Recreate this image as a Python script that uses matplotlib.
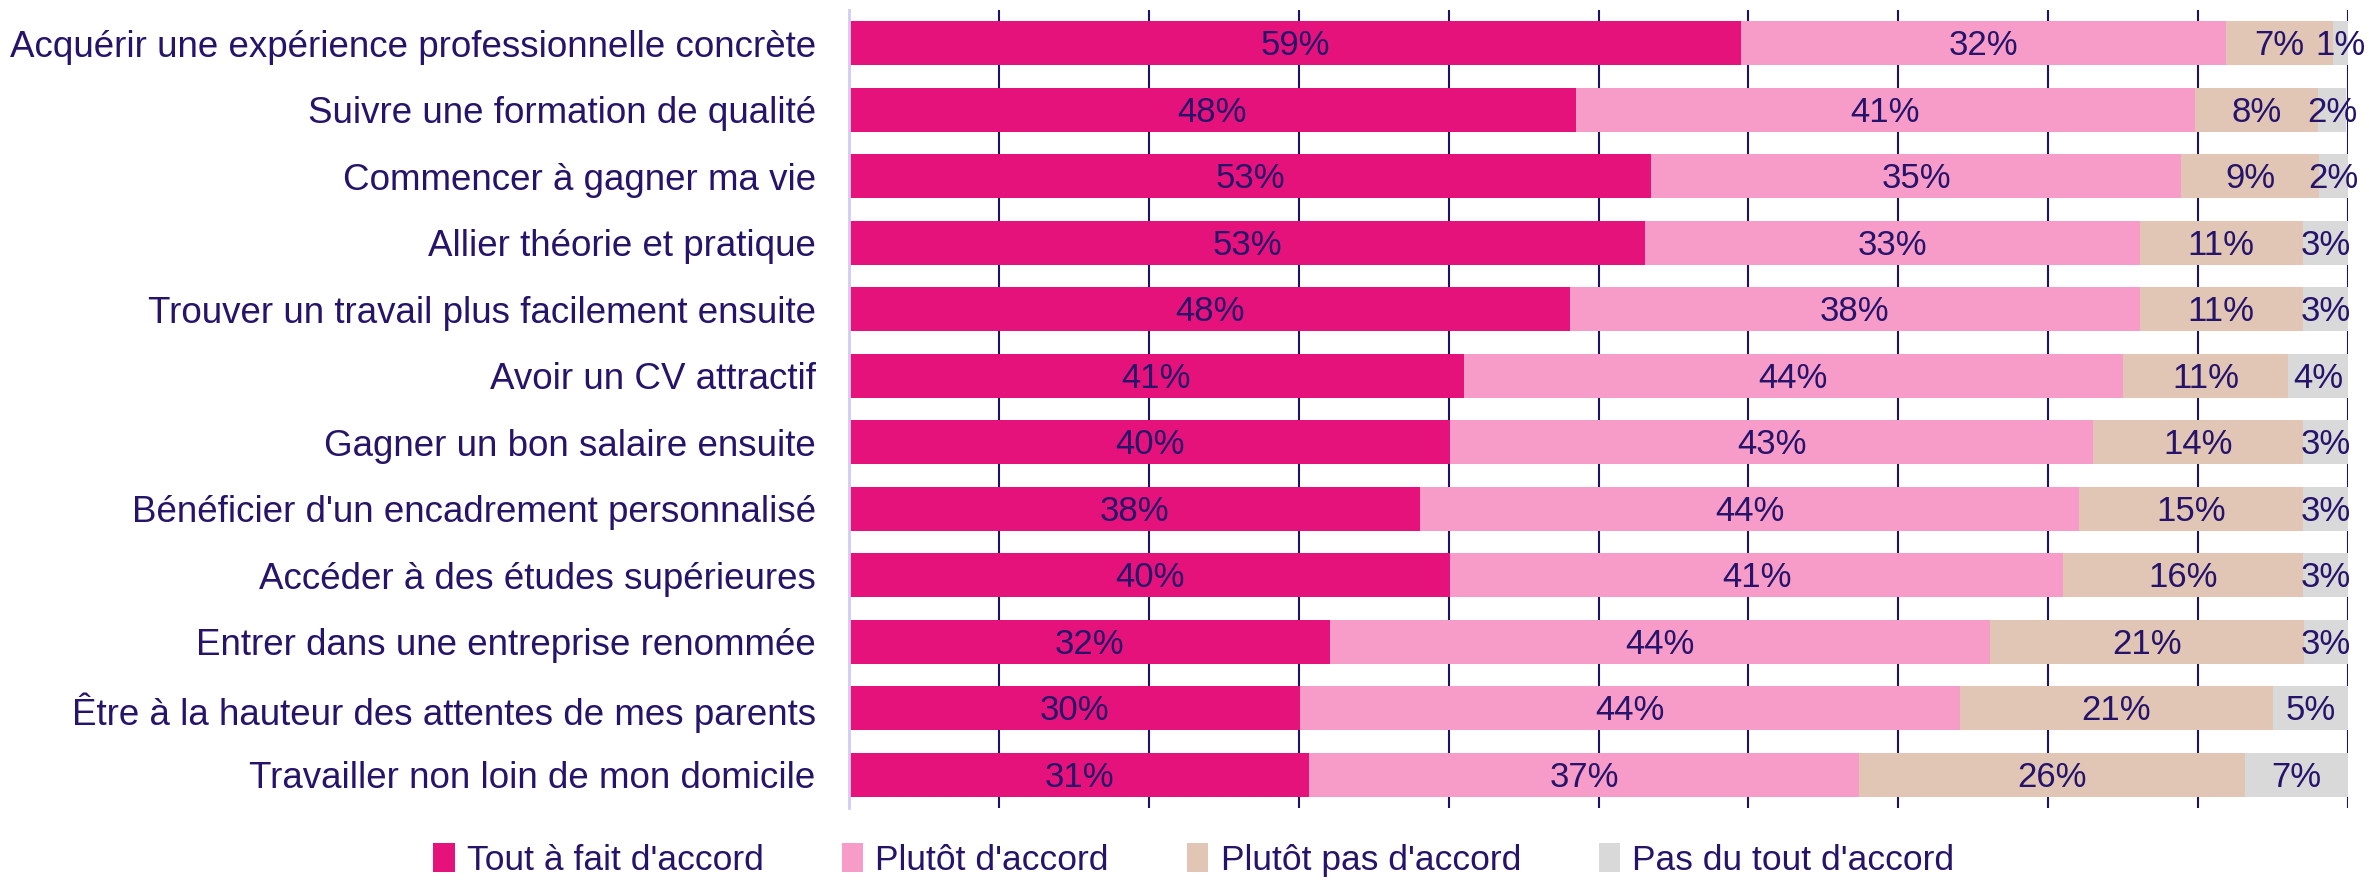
import matplotlib
matplotlib.use("Agg")
import matplotlib.pyplot as plt
import numpy as np

plt.rcParams['font.family'] = ['Liberation Sans', 'DejaVu Sans']

categories = [
    "Acquérir une expérience professionnelle concrète",
    "Suivre une formation de qualité",
    "Commencer à gagner ma vie",
    "Allier théorie et pratique",
    "Trouver un travail plus facilement ensuite",
    "Avoir un CV attractif",
    "Gagner un bon salaire ensuite",
    "Bénéficier d'un encadrement personnalisé",
    "Accéder à des études supérieures",
    "Entrer dans une entreprise renommée",
    "Être à la hauteur des attentes de mes parents",
    "Travailler non loin de mon domicile",
]

tout_a_fait = [59.49, 48.49, 53.49, 53.1, 48.1, 41.0, 40.1, 38.1, 40.1, 32.1, 30.1, 30.7]
plutot = [32.4, 41.3, 35.4, 33.0, 38.0, 44.0, 42.9, 43.95, 40.9, 44.0, 44.0, 36.7]
plutot_pas = [7.1, 8.2, 9.2, 10.9, 10.9, 11.0, 14.0, 14.95, 16.0, 20.95, 20.9, 25.7]
pas_du_tout = [1.0, 1.9, 1.9, 3.0, 3.0, 4.0, 3.0, 3.0, 3.0, 3.0, 5.0, 6.9]

series = ["Tout à fait d'accord", "Plutôt d'accord", "Plutôt pas d'accord", "Pas du tout d'accord"]
colors = ["#e6127b", "#f79bc9", "#e1c6b6", "#d9d9d9"]
text_color = "#26146a"

fig = plt.figure(figsize=(23.69, 8.84), dpi=100)
ax = fig.add_axes([849 / 2369, 1 - 808 / 884, 1499 / 2369, 798 / 884])

y = np.arange(len(categories))
left = np.zeros(len(categories))
for name, vals, col in zip(series, [tout_a_fait, plutot, plutot_pas, pas_du_tout], colors):
    vals = np.array(vals)
    ax.barh(y, vals, left=left, height=0.667, color=col, label=name, zorder=2)
    for yi, l, v in zip(y, left, vals):
        ax.text(l + v / 2, yi + 0.04, f"{round(v):.0f}%", ha='center', va='center',
                fontsize=25, color=text_color, zorder=3)
    left += vals

ax.set_xlim(0, 100)
ax.set_ylim(len(categories) - 0.5, -0.5)
ax.set_xticks(np.arange(0, 101, 10))
ax.xaxis.grid(True, color="#20106a", linewidth=1.5, zorder=0)
ax.set_axisbelow(True)
ax.tick_params(axis='x', length=0, labelbottom=False)
ax.tick_params(axis='y', length=0, pad=24, labelsize=26.5, labelcolor=text_color)
ax.set_yticks(y)
ax.set_yticklabels(categories)
for s in ['top', 'right', 'bottom']:
    ax.spines[s].set_visible(False)
ax.spines['left'].set_color("#d0ccf5")
ax.spines['left'].set_linewidth(2)

fig.legend(loc='lower center', bbox_to_anchor=(0.504, -0.028), ncol=4, frameon=False,
           fontsize=25.5, labelcolor=text_color, handlelength=0.6, handleheight=0.9,
           handletextpad=0.35, columnspacing=2.2)

fig.savefig("out.png", dpi=100)
